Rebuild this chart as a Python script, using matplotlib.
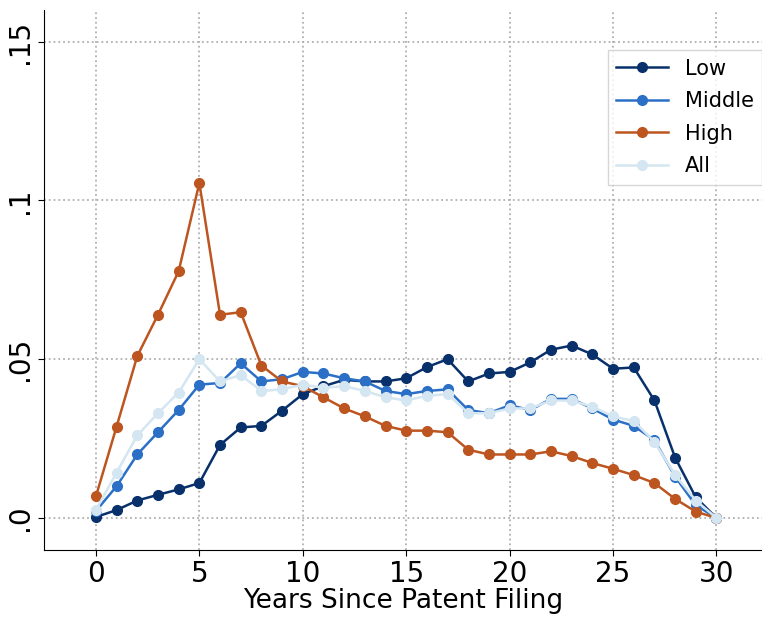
import numpy as np
import matplotlib.pyplot as plt

years = np.arange(0, 31)
low = [.0003, .0025, .0055, .0073, .009, .011, .023, .0285, .029, .0338, .039, .0415, .0435, .043, .043,
       .044, .0475, .050, .043, .0455, .046, .049, .053, .0543, .0515, .047, .0474, .037, .019, .0065, 0]
middle = [.0022, .010, .020, .027, .034, .042, .0425, .0487, .043, .0437, .046, .0455, .044, .043, .040,
          .039, .040, .0405, .034, .033, .0355, .034, .0375, .0375, .0345, .031, .029, .0245, .013, .004, 0]
high = [.0068, .0288, .051, .064, .0777, .1055, .064, .0648, .048, .043, .0415, .038, .0345, .032, .029,
        .0275, .0275, .027, .0215, .020, .020, .020, .021, .0195, .0173, .0155, .0135, .011, .006, .002, 0]
all_ = [.0025, .0143, .026, .033, .0395, .050, .043, .045, .040, .0405, .042, .041, .0415, .040, .038,
        .037, .0385, .039, .033, .033, .0345, .0345, .037, .037, .035, .032, .0305, .024, .0135, .0055, 0]

series = [("Low", low, "#08306b"), ("Middle", middle, "#2b70c6"),
          ("High", high, "#bd5520"), ("All", all_, "#d4e6f1")]

fig = plt.figure(figsize=(7.62, 6.17), dpi=100)
ax = fig.add_axes([0.058, 0.109, 0.942, 0.875])
for name, vals, col in series:
    ax.plot(years, vals, color=col, lw=1.8, marker="o", ms=7, label=name)

ax.set_xlim(-2.5, 32.2)
ax.set_ylim(-0.01, 0.16)
ax.set_xticks(range(0, 31, 5))
ax.set_yticks([0, .05, .1, .15])
ax.set_yticklabels([".0", ".05", ".1", ".15"], rotation=90, va="center")
ax.tick_params(labelsize=20, length=4)
ax.set_xlabel("Years Since Patent Filing", fontsize=19, labelpad=0)
ax.grid(True, ls=":", color="#b0b0b0", lw=1.3)
ax.spines["top"].set_visible(False)
ax.spines["right"].set_visible(False)
ax.legend(loc="upper right", bbox_to_anchor=(1.0, 0.925), borderaxespad=0, fontsize=15,
          fancybox=False, edgecolor="#cccccc", handlelength=2.5, labelspacing=0.6)
fig.savefig("out.png")
